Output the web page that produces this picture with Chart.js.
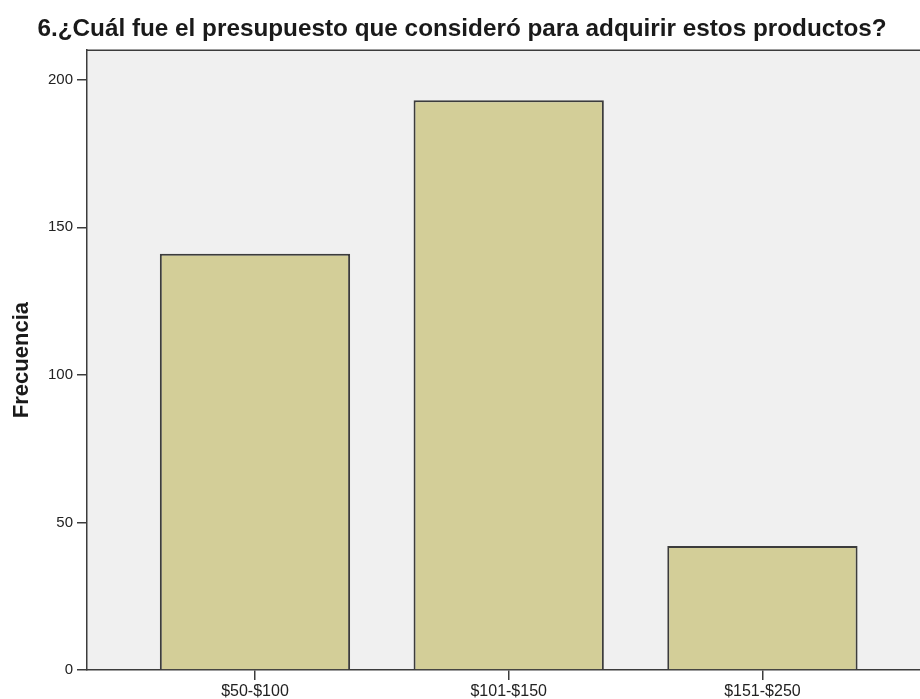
<!DOCTYPE html>
<html>
<head>
<meta charset="utf-8">
<script src="https://cdn.jsdelivr.net/npm/chart.js@4"></script>
<style>
  html, body { margin: 0; padding: 0; background: #fff; overflow: hidden; }
  #wrap { width: 920px; height: 699px; }
</style>
</head>
<body>
<div id="wrap"><canvas id="chart"></canvas></div>
<script>
// Data
const categories = ['$50-$100', '$101-$150', '$151-$250'];
const frequencies = [141, 193, 42];
const yTicks = [0, 50, 100, 150, 200];

const titleText = '6.¿Cuál fue el presupuesto que consideró para adquirir estos productos?';
const yTitle = 'Frecuencia';

const lineColor = '#3c3c3c';
const barFill = '#d3ce98';
const plotBg = '#f0f0f0';

// paints plot background and top frame line
const plotFrame = {
  id: 'plotFrame',
  beforeDraw(chart) {
    const { ctx, chartArea: a } = chart;
    ctx.save();
    ctx.fillStyle = '#fff';
    ctx.fillRect(0, 0, chart.width, chart.height);
    ctx.fillStyle = plotBg;
    ctx.fillRect(a.left, a.top, a.right - a.left, a.bottom - a.top);
    ctx.strokeStyle = lineColor;
    ctx.lineWidth = 1.5;
    ctx.beginPath();
    ctx.moveTo(a.left, a.top);
    ctx.lineTo(a.right, a.top);
    ctx.stroke();
    ctx.restore();
  }
};

new Chart(document.getElementById('chart'), {
  type: 'bar',
  data: {
    datasets: [{
      data: categories.map((c, i) => ({ x: i, y: frequencies[i] })),
      backgroundColor: barFill,
      borderColor: lineColor,
      borderWidth: 2,
      categoryPercentage: 1,
      barPercentage: 0.75
    }]
  },
  options: {
    responsive: true,
    maintainAspectRatio: false,
    animation: false,
    layout: { padding: { left: 4, right: 0, top: 0, bottom: 0 } },
    plugins: {
      legend: { display: false },
      tooltip: { enabled: false },
      title: {
        display: true,
        text: titleText,
        color: '#1a1a1a',
        font: { family: 'Arial, "Liberation Sans", sans-serif', size: 24.3, weight: 'bold' },
        padding: { top: 15, bottom: 6 }
      }
    },
    scales: {
      x: {
        type: 'linear',
        offset: false,
        min: -0.662,
        max: 2.621,
        afterBuildTicks: axis => { axis.ticks = categories.map((c, i) => ({ value: i })); },
        afterFit: axis => { axis.height = 29; },
        grid: { offset: false, drawOnChartArea: false, drawTicks: true, tickLength: 10, color: lineColor, lineWidth: 1.5 },
        border: { display: true, color: lineColor, width: 1.5 },
        ticks: {
          autoSkip: false,
          maxRotation: 0,
          padding: 2,
          color: '#222',
          font: { family: 'Arial, "Liberation Sans", sans-serif', size: 16 },
          callback: v => categories[v]
        }
      },
      y: {
        min: 0,
        max: 210,
        afterBuildTicks: axis => { axis.ticks = yTicks.map(v => ({ value: v })); },
        afterFit: axis => { axis.width = 83; },
        grid: { drawOnChartArea: false, drawTicks: true, tickLength: 10, color: lineColor, lineWidth: 1.5 },
        border: { display: true, color: lineColor, width: 1.5 },
        ticks: {
          padding: 4,
          color: '#222',
          font: { family: 'Arial, "Liberation Sans", sans-serif', size: 15 }
        },
        title: {
          display: true,
          text: yTitle,
          color: '#1a1a1a',
          font: { family: 'Arial, "Liberation Sans", sans-serif', size: 22, weight: 'bold' },
          padding: { top: 5, bottom: 0 }
        }
      }
    }
  },
  plugins: [plotFrame]
});
</script>
</body>
</html>
